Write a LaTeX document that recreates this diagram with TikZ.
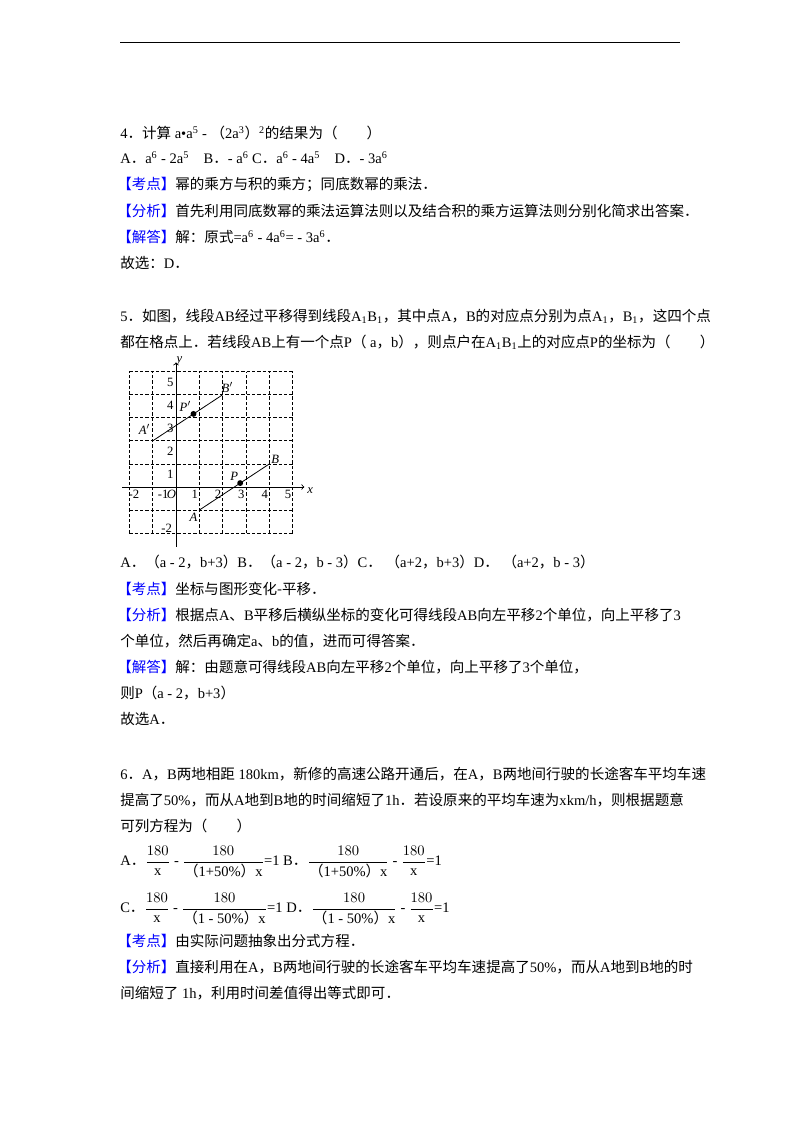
\documentclass[tikz,border=0pt]{standalone}
\usepackage{fontspec}
\usepackage{amsmath}
\setmainfont{Liberation Serif}
\newfontfamily\cjk{Noto Sans CJK SC}
\newcommand\zh[1]{{\cjk #1}}
\newcommand\kd[1]{\textcolor{blue}{\zh{【#1】}}}
\newcommand\fs{\fontsize{10.9}{13}\selectfont}
\newcommand\sups[1]{\textsuperscript{#1}}
\newcommand\pd{\zh{．}}
\newcommand\cm{\zh{，}}
\newcommand\dn{\zh{、}}
\begin{document}
\begin{tikzpicture}[x=0.75pt,y=-0.75pt,
  txt/.style={anchor=west,inner sep=0,font=\fs},
  lab/.style={inner sep=0,font=\fontsize{9.5}{11}\selectfont\itshape},
  num/.style={inner sep=0,font=\fontsize{9.5}{11}\selectfont},
  gridl/.style={dashed,line width=0.6pt,dash pattern=on 2.5pt off 1.5pt}]
\useasboundingbox (0,0) rectangle (800,1132);
\draw[line width=0.7pt] (120,42) -- (680,42);
% Q4
\node[txt] (l1) at (120,133) {4\pd\zh{计算} a•a\sups{5} - \zh{（}2a\sups{3}\zh{）}\sups{2}\zh{的结果为（\quad\quad）}};
\node[txt] (l2) at (120,158) {A\pd a\sups{6} - 2a\sups{5}\quad B\pd - a\sups{6}\ C\pd a\sups{6} - 4a\sups{5}\quad D\pd - 3a\sups{6}};
\node[txt] (l3) at (117,185) {\kd{考点}\zh{幂的乘方与积的乘方；同底数幂的乘法．}};
\node[txt] (l4) at (117,211) {\kd{分析}\zh{首先利用同底数幂的乘法运算法则以及结合积的乘方运算法则分别化简求出答案．}};
\node[txt] (l5) at (117,237) {\kd{解答}\zh{解：原式}=a\sups{6} - 4a\sups{6}= - 3a\sups{6}\pd};
\node[txt] (l6) at (120,263) {\zh{故选：}D\pd};
% Q5
\node[txt] (m1) at (120,316) {5\pd\zh{如图，线段}AB\zh{经过平移得到线段}A\textsubscript{1}B\textsubscript{1}\zh{，其中点}A\cm B\zh{的对应点分别为点}A\textsubscript{1}\cm B\textsubscript{1}\zh{，这四个点}};
\node[txt] (m2) at (120,342) {\zh{都在格点上．若线段}AB\zh{上有一个点}P\zh{（} a\cm b\zh{），则点户在}A\textsubscript{1}B\textsubscript{1}\zh{上的对应点}P\zh{的坐标为（\quad\quad）}};
\begin{scope}[shift={(176,487)},x=17.5pt,y=17.3pt]
  \foreach \i in {-2,...,5} {\draw[gridl] (\i,-2) -- (\i,5); \draw[gridl] (-2,\i) -- (5,\i);}
  \draw[->,line width=0.6pt] (-2.3,0) -- (5.5,0);
  \draw[->,line width=0.6pt] (0,-2.6) -- (0,5.4);
  \node[lab] (xl) at (5.75,-0.15) {x};
  \node[lab] (yl) at (0.15,5.45) {y};
  \coordinate (A) at (1,-1); \coordinate (B) at (4,1);
  \coordinate (A1) at (-1,2); \coordinate (B1) at (2,4);
  \draw[line width=0.6pt] (A) -- (B);
  \draw[line width=0.6pt] (A1) -- (B1);
  \fill (2.75,0.17) circle (2.2pt);
  \fill (0.75,3.17) circle (2.2pt);
  \node[lab] (Al) at (0.75,-1.3) {A};
  \node[lab] (Bl) at (4.25,1.2) {B};
  \node[lab] (Pl) at (2.5,0.45) {P};
  \node[lab] (A1l) at (-1.35,2.5) {A$'$};
  \node[lab] (B1l) at (2.2,4.3) {B$'$};
  \node[lab] (P1l) at (0.4,3.5) {P$'$};
  \foreach \i in {1,...,5} {\node[num] at (\i-0.2,-0.3) {\i};}
  \node[num] at (-1.8,-0.3) {-2};
  \node[num] at (-0.55,-0.3) {-1};
  \node[lab] (O) at (-0.2,-0.3) {O};
  \foreach \i in {1,...,5} {\node[num] at (-0.25,\i-0.45) {\i};}
  \node[num] at (-0.4,-1.8) {-2};
\end{scope}
\node[txt] (m3) at (120,562) {A\pd\zh{（}a - 2\cm b+3\zh{）}B\pd\zh{（}a - 2\cm b - 3\zh{）}C\pd\ \zh{（}a+2\cm b+3\zh{）}D\pd\ \zh{（}a+2\cm b - 3\zh{）}};
\node[txt] (m4) at (117,589) {\kd{考点}\zh{坐标与图形变化-平移．}};
\node[txt] (m5) at (117,615) {\kd{分析}\zh{根据点}A\dn B\zh{平移后横纵坐标的变化可得线段}AB\zh{向左平移}2\zh{个单位，向上平移了}3};
\node[txt] (m6) at (120,641) {\zh{个单位，然后再确定}a\dn b\zh{的值，进而可得答案．}};
\node[txt] (m7) at (117,667) {\kd{解答}\zh{解：由题意可得线段}AB\zh{向左平移}2\zh{个单位，向上平移了}3\zh{个单位，}};
\node[txt] (m8) at (120,693) {\zh{则}P\zh{（}a - 2\cm b+3\zh{）}};
\node[txt] (m9) at (120,719) {\zh{故选}A\pd};
% Q6
\node[txt] (n1) at (120,774) {6\pd A\cm B\zh{两地相距} 180km\zh{，新修的高速公路开通后，在}A\cm B\zh{两地间行驶的长途客车平均车速}};
\node[txt] (n2) at (120,800) {\zh{提高了}50\%\zh{，而从}A\zh{地到}B\zh{地的时间缩短了}1h\zh{．若设原来的平均车速为}xkm/h\zh{，则根据题意}};
\node[txt] (n3) at (120,826) {\zh{可列方程为（\quad\quad）}};
\node[txt] (n4) at (120,862) {A\pd$\dfrac{180}{\mathrm{x}}$ - $\dfrac{180}{\text{\zh{（}1+50\%\zh{）}x}}$=1 B\pd$\dfrac{180}{\text{\zh{（}1+50\%\zh{）}x}}$ - $\dfrac{180}{\mathrm{x}}$=1};
\node[txt] (n5) at (120,909) {C\pd$\dfrac{180}{\mathrm{x}}$ - $\dfrac{180}{\text{\zh{（}1 - 50\%\zh{）}x}}$=1 D\pd$\dfrac{180}{\text{\zh{（}1 - 50\%\zh{）}x}}$ - $\dfrac{180}{\mathrm{x}}$=1};
\node[txt] (n6) at (117,941) {\kd{考点}\zh{由实际问题抽象出分式方程．}};
\node[txt] (n7) at (117,967) {\kd{分析}\zh{直接利用在}A\cm B\zh{两地间行驶的长途客车平均车速提高了}50\%\zh{，而从}A\zh{地到}B\zh{地的时}};
\node[txt] (n8) at (120,993) {\zh{间缩短了} 1h\zh{，利用时间差值得出等式即可．}};
\end{tikzpicture}
\end{document}
